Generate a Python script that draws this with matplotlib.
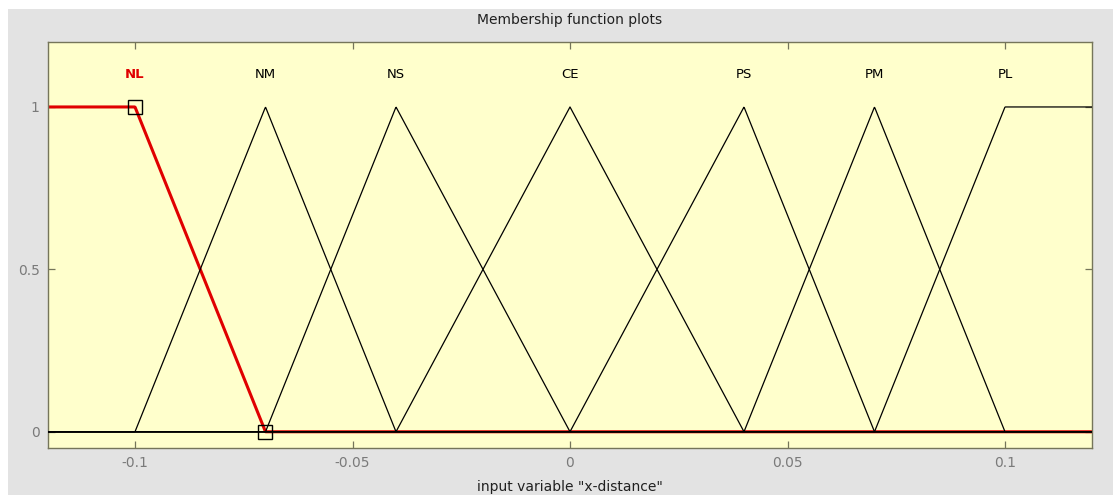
import numpy as np
import matplotlib.pyplot as plt
from matplotlib.patches import Rectangle

# membership functions for input "x-distance"
mf_names = ["NL", "NM", "NS", "CE", "PS", "PM", "PL"]
# trapezoid params [a, b, c, d] (triangles have b == c)
mf_params = [
    [-0.13, -0.13, -0.10, -0.07],
    [-0.10, -0.07, -0.07, -0.04],
    [-0.07, -0.04, -0.04, 0.00],
    [-0.04, 0.00, 0.00, 0.04],
    [0.00, 0.04, 0.04, 0.07],
    [0.04, 0.07, 0.07, 0.10],
    [0.07, 0.10, 0.13, 0.13],
]
mf_peak = [-0.10, -0.07, -0.04, 0.00, 0.04, 0.07, 0.10]
selected = 0  # NL highlighted

x_range = [-0.12, 0.12]
y_range = [-0.05, 1.2]
x_ticks = [-0.1, -0.05, 0, 0.05, 0.1]
x_ticklabels = ["-0.1", "-0.05", "0", "0.05", "0.1"]
y_ticks = [0, 0.5, 1]
y_ticklabels = ["0", "0.5", "1"]

fig_bg = "#e3e3e3"
ax_bg = "#ffffcc"
spine_col = "#75755a"
tick_txt = "#7a7a7a"


def trapmf(x, p):
    a, b, c, d = p
    y = np.ones_like(x)
    if b > a:
        y = np.minimum(y, (x - a) / (b - a))
    else:
        y = np.where(x < a, 0.0, y)
    if d > c:
        y = np.minimum(y, (d - x) / (d - c))
    else:
        y = np.where(x > d, 0.0, y)
    return np.clip(y, 0, 1)


W, H = 1113, 495
fig = plt.figure(figsize=(W / 100, H / 100), dpi=100, facecolor="white")
fig.patches.append(Rectangle((8 / W, 0), 1 - 8 / W, 1 - 9 / H, transform=fig.transFigure,
                             facecolor=fig_bg, edgecolor="none", zorder=-10))

ax = fig.add_axes([48 / W, 1 - 448 / H, (1092 - 48) / W, (448 - 42) / H])
ax.set_facecolor(ax_bg)

x = np.linspace(x_range[0], x_range[1], 2001)
for i, p in enumerate(mf_params):
    if i == selected:
        continue
    ax.plot(x, trapmf(x, p), color="black", lw=0.9, zorder=3)

# highlighted function, thick red
ax.plot(x, trapmf(x, mf_params[selected]), color="#e00000", lw=2.2, zorder=2)
a, b, c, d = mf_params[selected]
ax.plot([c, d], [1, 0], ls="none", marker="s", ms=10, mfc="none", mec="black",
        mew=1.0, zorder=4)

for i, name in enumerate(mf_names):
    if i == selected:
        ax.text(mf_peak[i], 1.1, name, ha="center", va="center", fontsize=9.5,
                color="#e00000", fontweight="bold")
    else:
        ax.text(mf_peak[i], 1.1, name, ha="center", va="center", fontsize=9.5,
                color="black")

ax.set_xlim(x_range)
ax.set_ylim(y_range)
ax.set_xticks(x_ticks)
ax.set_xticklabels(x_ticklabels)
ax.set_yticks(y_ticks)
ax.set_yticklabels(y_ticklabels)
ax.tick_params(direction="in", length=5, width=0.9, color=spine_col, labelcolor=tick_txt,
               labelsize=10, top=True, right=True, pad=6)
for s in ax.spines.values():
    s.set_color(spine_col)
    s.set_linewidth(1.0)

ax.set_title("Membership function plots", fontsize=10, color="#202020", pad=13)
ax.set_xlabel('input variable "x-distance"', fontsize=10, color="#202020", labelpad=7)

fig.savefig("out.png", dpi=100, facecolor=fig.get_facecolor())
